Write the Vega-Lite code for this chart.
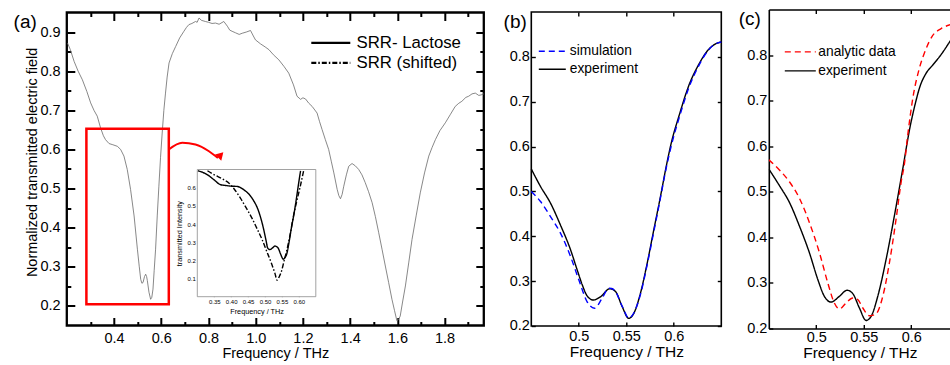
{
  "$schema": "https://vega.github.io/schema/vega-lite/v6.json",
  "padding": {"left": 11.8, "top": 8.5, "right": 0, "bottom": 0},
  "spacing": 47.5,
  "bounds": "flush",
  "center": true,
  "datasets": {
    "a_main": [
      {"f":0.203,"v":0.872},{"f":0.215,"v":0.855},{"f":0.231,"v":0.825},{"f":0.248,"v":0.8},{"f":0.266,"v":0.778},{"f":0.285,"v":0.748},{"f":0.301,"v":0.719},{"f":0.315,"v":0.7},{"f":0.329,"v":0.685},{"f":0.343,"v":0.655},{"f":0.355,"v":0.635},{"f":0.364,"v":0.625},{"f":0.379,"v":0.615},{"f":0.395,"v":0.612},{"f":0.414,"v":0.608},{"f":0.428,"v":0.6},{"f":0.442,"v":0.583},{"f":0.456,"v":0.549},{"f":0.47,"v":0.498},{"f":0.485,"v":0.43},{"f":0.499,"v":0.345},{"f":0.507,"v":0.3},{"f":0.513,"v":0.268},{"f":0.518,"v":0.258},{"f":0.523,"v":0.26},{"f":0.529,"v":0.275},{"f":0.534,"v":0.281},{"f":0.538,"v":0.275},{"f":0.541,"v":0.265},{"f":0.548,"v":0.235},{"f":0.555,"v":0.217},{"f":0.56,"v":0.222},{"f":0.565,"v":0.243},{"f":0.57,"v":0.29},{"f":0.576,"v":0.345},{"f":0.583,"v":0.43},{"f":0.59,"v":0.506},{"f":0.597,"v":0.58},{"f":0.604,"v":0.642},{"f":0.611,"v":0.7},{"f":0.618,"v":0.744},{"f":0.625,"v":0.785},{"f":0.633,"v":0.821},{"f":0.647,"v":0.845},{"f":0.661,"v":0.863},{"f":0.678,"v":0.885},{"f":0.696,"v":0.902},{"f":0.707,"v":0.912},{"f":0.717,"v":0.919},{"f":0.73,"v":0.922},{"f":0.745,"v":0.927},{"f":0.752,"v":0.925},{"f":0.76,"v":0.936},{"f":0.77,"v":0.93},{"f":0.787,"v":0.927},{"f":0.8,"v":0.925},{"f":0.815,"v":0.922},{"f":0.83,"v":0.923},{"f":0.845,"v":0.92},{"f":0.865,"v":0.927},{"f":0.88,"v":0.915},{"f":0.89,"v":0.905},{"f":0.9,"v":0.902},{"f":0.915,"v":0.898},{"f":0.93,"v":0.894},{"f":0.943,"v":0.897},{"f":0.96,"v":0.9},{"f":0.978,"v":0.904},{"f":0.99,"v":0.89},{"f":0.999,"v":0.88},{"f":1.02,"v":0.87},{"f":1.04,"v":0.862},{"f":1.056,"v":0.855},{"f":1.075,"v":0.842},{"f":1.098,"v":0.829},{"f":1.12,"v":0.812},{"f":1.14,"v":0.795},{"f":1.16,"v":0.765},{"f":1.175,"v":0.736},{"f":1.19,"v":0.728},{"f":1.2,"v":0.732},{"f":1.211,"v":0.729},{"f":1.225,"v":0.718},{"f":1.239,"v":0.71},{"f":1.26,"v":0.693},{"f":1.27,"v":0.672},{"f":1.281,"v":0.651},{"f":1.295,"v":0.625},{"f":1.309,"v":0.6},{"f":1.32,"v":0.57},{"f":1.331,"v":0.54},{"f":1.345,"v":0.498},{"f":1.352,"v":0.482},{"f":1.359,"v":0.474},{"f":1.366,"v":0.485},{"f":1.373,"v":0.506},{"f":1.384,"v":0.535},{"f":1.394,"v":0.557},{"f":1.408,"v":0.564},{"f":1.422,"v":0.558},{"f":1.436,"v":0.549},{"f":1.45,"v":0.535},{"f":1.464,"v":0.515},{"f":1.478,"v":0.492},{"f":1.493,"v":0.464},{"f":1.507,"v":0.428},{"f":1.521,"v":0.387},{"f":1.535,"v":0.345},{"f":1.549,"v":0.302},{"f":1.563,"v":0.26},{"f":1.577,"v":0.217},{"f":1.588,"v":0.188},{"f":1.598,"v":0.162},{"f":1.605,"v":0.165},{"f":1.612,"v":0.174},{"f":1.622,"v":0.21},{"f":1.634,"v":0.251},{"f":1.648,"v":0.31},{"f":1.662,"v":0.37},{"f":1.68,"v":0.432},{"f":1.697,"v":0.489},{"f":1.715,"v":0.54},{"f":1.733,"v":0.583},{"f":1.747,"v":0.605},{"f":1.761,"v":0.625},{"f":1.78,"v":0.648},{"f":1.803,"v":0.668},{"f":1.825,"v":0.69},{"f":1.845,"v":0.71},{"f":1.86,"v":0.718},{"f":1.873,"v":0.723},{"f":1.89,"v":0.733},{"f":1.902,"v":0.736},{"f":1.916,"v":0.742},{"f":1.93,"v":0.744},{"f":1.945,"v":0.738},{"f":1.958,"v":0.74},{"f":1.966,"v":0.742}
    ],
    "inset": [
      {"s":"SRR- Lactose","f":0.302,"v":0.693},{"s":"SRR- Lactose","f":0.315,"v":0.685},{"s":"SRR- Lactose","f":0.329,"v":0.672},{"s":"SRR- Lactose","f":0.349,"v":0.644},{"s":"SRR- Lactose","f":0.368,"v":0.617},{"s":"SRR- Lactose","f":0.388,"v":0.611},{"s":"SRR- Lactose","f":0.403,"v":0.608},{"s":"SRR- Lactose","f":0.417,"v":0.607},{"s":"SRR- Lactose","f":0.437,"v":0.589},{"s":"SRR- Lactose","f":0.461,"v":0.544},{"s":"SRR- Lactose","f":0.481,"v":0.471},{"s":"SRR- Lactose","f":0.495,"v":0.379},{"s":"SRR- Lactose","f":0.503,"v":0.31},{"s":"SRR- Lactose","f":0.508,"v":0.267},{"s":"SRR- Lactose","f":0.513,"v":0.26},{"s":"SRR- Lactose","f":0.517,"v":0.261},{"s":"SRR- Lactose","f":0.523,"v":0.27},{"s":"SRR- Lactose","f":0.529,"v":0.279},{"s":"SRR- Lactose","f":0.534,"v":0.276},{"s":"SRR- Lactose","f":0.539,"v":0.267},{"s":"SRR- Lactose","f":0.546,"v":0.235},{"s":"SRR- Lactose","f":0.554,"v":0.206},{"s":"SRR- Lactose","f":0.559,"v":0.215},{"s":"SRR- Lactose","f":0.564,"v":0.234},{"s":"SRR- Lactose","f":0.571,"v":0.3},{"s":"SRR- Lactose","f":0.578,"v":0.379},{"s":"SRR- Lactose","f":0.586,"v":0.46},{"s":"SRR- Lactose","f":0.593,"v":0.544},{"s":"SRR- Lactose","f":0.599,"v":0.62},{"s":"SRR- Lactose","f":0.605,"v":0.693},
      {"s":"SRR (shifted)","f":0.33,"v":0.693},{"s":"SRR (shifted)","f":0.349,"v":0.672},{"s":"SRR (shifted)","f":0.378,"v":0.644},{"s":"SRR (shifted)","f":0.393,"v":0.626},{"s":"SRR (shifted)","f":0.41,"v":0.59},{"s":"SRR (shifted)","f":0.427,"v":0.544},{"s":"SRR (shifted)","f":0.444,"v":0.49},{"s":"SRR (shifted)","f":0.461,"v":0.434},{"s":"SRR (shifted)","f":0.476,"v":0.376},{"s":"SRR (shifted)","f":0.491,"v":0.316},{"s":"SRR (shifted)","f":0.505,"v":0.25},{"s":"SRR (shifted)","f":0.52,"v":0.179},{"s":"SRR (shifted)","f":0.529,"v":0.13},{"s":"SRR (shifted)","f":0.536,"v":0.091},{"s":"SRR (shifted)","f":0.542,"v":0.11},{"s":"SRR (shifted)","f":0.549,"v":0.142},{"s":"SRR (shifted)","f":0.556,"v":0.195},{"s":"SRR (shifted)","f":0.564,"v":0.252},{"s":"SRR (shifted)","f":0.574,"v":0.34},{"s":"SRR (shifted)","f":0.583,"v":0.434},{"s":"SRR (shifted)","f":0.593,"v":0.52},{"s":"SRR (shifted)","f":0.603,"v":0.598},{"s":"SRR (shifted)","f":0.614,"v":0.693}
    ],
    "red_box": [{"x1":0.283,"x2":0.632,"y1":0.204,"y2":0.653}],
    "arrow": [{"f":0.632,"v":0.6},{"f":0.689,"v":0.617},{"f":0.745,"v":0.6125},{"f":0.802,"v":0.5954},{"f":0.84,"v":0.578}],
    "arrow_head": [{"f":0.8497,"v":0.5806}],
    "inset_box": [{"x1":0.3,"x2":0.65,"y1":0,"y2":0.7}],
    "b": [
      {"s":"experiment","f":0.45,"v":0.55},{"s":"experiment","f":0.4597,"v":0.511},{"s":"experiment","f":0.4702,"v":0.474},{"s":"experiment","f":0.4807,"v":0.425},{"s":"experiment","f":0.4913,"v":0.37},{"s":"experiment","f":0.4983,"v":0.325},{"s":"experiment","f":0.5036,"v":0.292},{"s":"experiment","f":0.5088,"v":0.267},{"s":"experiment","f":0.5152,"v":0.258},{"s":"experiment","f":0.5228,"v":0.265},{"s":"experiment","f":0.5326,"v":0.283},{"s":"experiment","f":0.5386,"v":0.277},{"s":"experiment","f":0.5457,"v":0.243},{"s":"experiment","f":0.5526,"v":0.217},{"s":"experiment","f":0.5579,"v":0.228},{"s":"experiment","f":0.5649,"v":0.273},{"s":"experiment","f":0.572,"v":0.34},{"s":"experiment","f":0.5789,"v":0.414},{"s":"experiment","f":0.586,"v":0.489},{"s":"experiment","f":0.5913,"v":0.548},{"s":"experiment","f":0.597,"v":0.605},{"s":"experiment","f":0.606,"v":0.672},{"s":"experiment","f":0.616,"v":0.737},{"s":"experiment","f":0.626,"v":0.782},{"s":"experiment","f":0.636,"v":0.815},{"s":"experiment","f":0.645,"v":0.83},{"s":"experiment","f":0.65,"v":0.833},
      {"s":"simulation","f":0.45,"v":0.5},{"s":"simulation","f":0.4597,"v":0.4775},{"s":"simulation","f":0.4702,"v":0.444},{"s":"simulation","f":0.4807,"v":0.407},{"s":"simulation","f":0.4913,"v":0.355},{"s":"simulation","f":0.5,"v":0.303},{"s":"simulation","f":0.5088,"v":0.254},{"s":"simulation","f":0.5165,"v":0.2395},{"s":"simulation","f":0.5246,"v":0.262},{"s":"simulation","f":0.5316,"v":0.284},{"s":"simulation","f":0.5346,"v":0.2835},{"s":"simulation","f":0.5386,"v":0.277},{"s":"simulation","f":0.5457,"v":0.244},{"s":"simulation","f":0.5526,"v":0.218},{"s":"simulation","f":0.5579,"v":0.229},{"s":"simulation","f":0.565,"v":0.271},{"s":"simulation","f":0.572,"v":0.337},{"s":"simulation","f":0.579,"v":0.411},{"s":"simulation","f":0.586,"v":0.486},{"s":"simulation","f":0.5913,"v":0.545},{"s":"simulation","f":0.5975,"v":0.603},{"s":"simulation","f":0.6065,"v":0.67},{"s":"simulation","f":0.6165,"v":0.735},{"s":"simulation","f":0.6265,"v":0.781},{"s":"simulation","f":0.636,"v":0.814},{"s":"simulation","f":0.645,"v":0.83},{"s":"simulation","f":0.65,"v":0.833}
    ],
    "c": [
      {"s":"experiment","f":0.45,"v":0.55},{"s":"experiment","f":0.4612,"v":0.5135},{"s":"experiment","f":0.4717,"v":0.4768},{"s":"experiment","f":0.4822,"v":0.425},{"s":"experiment","f":0.4927,"v":0.3665},{"s":"experiment","f":0.5016,"v":0.3075},{"s":"experiment","f":0.5085,"v":0.2706},{"s":"experiment","f":0.5156,"v":0.258},{"s":"experiment","f":0.5243,"v":0.2706},{"s":"experiment","f":0.5324,"v":0.2839},{"s":"experiment","f":0.5384,"v":0.2766},{"s":"experiment","f":0.5454,"v":0.245},{"s":"experiment","f":0.5524,"v":0.2177},{"s":"experiment","f":0.5577,"v":0.2265},{"s":"experiment","f":0.5647,"v":0.2706},{"s":"experiment","f":0.5735,"v":0.3517},{"s":"experiment","f":0.5822,"v":0.4472},{"s":"experiment","f":0.591,"v":0.55},{"s":"experiment","f":0.5985,"v":0.64},{"s":"experiment","f":0.605,"v":0.7},{"s":"experiment","f":0.6085,"v":0.727},{"s":"experiment","f":0.6156,"v":0.76},{"s":"experiment","f":0.6226,"v":0.778},{"s":"experiment","f":0.631,"v":0.8},{"s":"experiment","f":0.6416,"v":0.833},
      {"s":"analytic data","f":0.45,"v":0.57},{"s":"analytic data","f":0.4612,"v":0.548},{"s":"analytic data","f":0.4717,"v":0.522},{"s":"analytic data","f":0.4822,"v":0.486},{"s":"analytic data","f":0.4927,"v":0.4327},{"s":"analytic data","f":0.5033,"v":0.3665},{"s":"analytic data","f":0.5121,"v":0.3},{"s":"analytic data","f":0.519,"v":0.256},{"s":"analytic data","f":0.5243,"v":0.2428},{"s":"analytic data","f":0.5314,"v":0.256},{"s":"analytic data","f":0.5384,"v":0.267},{"s":"analytic data","f":0.5437,"v":0.2634},{"s":"analytic data","f":0.549,"v":0.245},{"s":"analytic data","f":0.5559,"v":0.228},{"s":"analytic data","f":0.563,"v":0.2324},{"s":"analytic data","f":0.57,"v":0.2706},{"s":"analytic data","f":0.577,"v":0.3444},{"s":"analytic data","f":0.584,"v":0.44},{"s":"analytic data","f":0.5893,"v":0.521},{"s":"analytic data","f":0.5927,"v":0.56},{"s":"analytic data","f":0.5963,"v":0.625},{"s":"analytic data","f":0.6016,"v":0.705},{"s":"analytic data","f":0.6085,"v":0.771},{"s":"analytic data","f":0.6139,"v":0.805},{"s":"analytic data","f":0.6226,"v":0.843},{"s":"analytic data","f":0.6314,"v":0.858},{"s":"analytic data","f":0.6416,"v":0.867}
    ]
  },
  "hconcat": [
    {
      "width": 417,
      "height": 313,
      "view": {"stroke": "black", "strokeWidth": 2.3},
      "resolve": {"scale": {"x": "independent", "y": "independent"}, "axis": {"x": "independent", "y": "independent"}},
      "layer": [
        {
          "data": {"name": "a_main"},
          "mark": {"type": "line", "color": "#6a6a6a", "strokeWidth": 0.8},
          "encoding": {
            "x": {"field": "f", "type": "quantitative", "scale": {"domain": [0.2, 1.966], "nice": false, "zero": false},
              "axis": {"orient": "bottom", "values": [0.3,0.4,0.5,0.6,0.7,0.8,0.9,1.0,1.1,1.2,1.3,1.4,1.5,1.6,1.7,1.8,1.9], "format": ".1f",
                "labelExpr": "round(datum.value*10)%2==0 ? datum.label : ''",
                "tickSize": {"condition": {"test": "round(datum.value*10)%2==0", "value": -8}, "value": -4},
                "tickWidth": 2, "labelFontSize": 14.5, "labelPadding": 14, "title": "Frequency / THz", "titleFontSize": 14.5, "titlePadding": -2}},
            "y": {"field": "v", "type": "quantitative", "scale": {"domain": [0.15, 0.95], "nice": false, "zero": false},
              "axis": {"orient": "left", "values": [0.2,0.25,0.3,0.35,0.4,0.45,0.5,0.55,0.6,0.65,0.7,0.75,0.8,0.85,0.9], "format": ".1f",
                "labelExpr": "round(datum.value*20)%2==0 ? datum.label : ''",
                "tickSize": {"condition": {"test": "round(datum.value*20)%2==0", "value": -8}, "value": -4},
                "tickWidth": 2, "labelFontSize": 14.5, "labelPadding": 14.7, "title": "Normalized transmitted electric field", "titleFontSize": 14.5, "titlePadding": 0, "titleY": 149.4}}
          }
        },
        {
          "data": {"name": "a_main"},
          "mark": {"type": "line", "opacity": 0},
          "encoding": {
            "x": {"field": "f", "type": "quantitative", "scale": {"domain": [0.2, 1.966], "nice": false, "zero": false},
              "axis": {"orient": "top", "values": [0.3,0.4,0.5,0.6,0.7,0.8,0.9,1.0,1.1,1.2,1.3,1.4,1.5,1.6,1.7,1.8,1.9], "labels": false, "title": null,
                "tickSize": {"condition": {"test": "round(datum.value*10)%2==0", "value": -8}, "value": -4}, "tickWidth": 2}},
            "y": {"field": "v", "type": "quantitative", "scale": {"domain": [0.15, 0.95], "nice": false, "zero": false},
              "axis": {"orient": "right", "values": [0.2,0.25,0.3,0.35,0.4,0.45,0.5,0.55,0.6,0.65,0.7,0.75,0.8,0.85,0.9], "labels": false, "title": null,
                "tickSize": {"condition": {"test": "round(datum.value*20)%2==0", "value": -8}, "value": -4}, "tickWidth": 2}}
          }
        },
        {
          "data": {"name": "red_box"},
          "mark": {"type": "rect", "fillOpacity": 0, "stroke": "#ff0000", "strokeWidth": 2.5},
          "encoding": {
            "x": {"field": "x1", "type": "quantitative", "scale": {"domain": [0.2, 1.966], "nice": false, "zero": false}, "axis": null},
            "x2": {"field": "x2"},
            "y": {"field": "y1", "type": "quantitative", "scale": {"domain": [0.15, 0.95], "nice": false, "zero": false}, "axis": null},
            "y2": {"field": "y2"}
          }
        },
        {
          "data": {"name": "arrow"},
          "mark": {"type": "line", "color": "#ff0000", "strokeWidth": 2, "interpolate": "monotone"},
          "encoding": {
            "x": {"field": "f", "type": "quantitative", "scale": {"domain": [0.2, 1.966], "nice": false, "zero": false}, "axis": null},
            "y": {"field": "v", "type": "quantitative", "scale": {"domain": [0.15, 0.95], "nice": false, "zero": false}, "axis": null}
          }
        },
        {
          "data": {"name": "arrow_head"},
          "mark": {"type": "point", "shape": "triangle-down", "filled": true, "color": "#ff0000", "opacity": 1, "size": 75, "angle": -16},
          "encoding": {
            "x": {"field": "f", "type": "quantitative", "scale": {"domain": [0.2, 1.966], "nice": false, "zero": false}, "axis": null},
            "y": {"field": "v", "type": "quantitative", "scale": {"domain": [0.15, 0.95], "nice": false, "zero": false}, "axis": null}
          }
        },
        {
          "data": {"name": "inset_box"},
          "mark": {"type": "rect", "fill": "white", "stroke": "#8a8a8a", "strokeWidth": 0.8},
          "encoding": {
            "x": {"field": "x1", "type": "quantitative", "scale": {"domain": [0.3, 0.65], "range": [130.5, 249], "nice": false, "zero": false}, "axis": null},
            "x2": {"field": "x2"},
            "y": {"field": "y1", "type": "quantitative", "scale": {"domain": [0, 0.7], "range": [284.2, 157], "nice": false, "zero": false}, "axis": null},
            "y2": {"field": "y2"}
          }
        },
        {
          "data": {"name": "inset"},
          "mark": {"type": "line", "color": "black", "strokeWidth": 1.4, "interpolate": "monotone"},
          "encoding": {
            "x": {"field": "f", "type": "quantitative", "scale": {"domain": [0.3, 0.65], "range": [130.5, 249], "nice": false, "zero": false},
              "axis": {"orient": "bottom", "offset": -28.8, "values": [0.35,0.4,0.45,0.5,0.55,0.6], "format": ".2f", "labelFontSize": 6, "tickSize": -2, "tickWidth": 0.7, "tickColor": "#555", "labelPadding": 4, "title": "Frequency / THz", "titleFontSize": 7.3, "titlePadding": 3}},
            "y": {"field": "v", "type": "quantitative", "scale": {"domain": [0, 0.7], "range": [284.2, 157], "nice": false, "zero": false},
              "axis": {"orient": "left", "offset": -130.5, "values": [0.1,0.2,0.3,0.4,0.5,0.6], "format": ".1f", "labelFontSize": 6, "tickSize": -2, "tickWidth": 0.7, "tickColor": "#555", "labelPadding": 4, "title": "transmitted Intensity", "titleFontSize": 7.3, "titlePadding": 3}},
            "strokeDash": {"field": "s", "type": "nominal",
              "scale": {"domain": ["SRR- Lactose", "SRR (shifted)"], "range": [[1, 0], [5, 2, 1.5, 2]]},
              "legend": {"orient": "none", "legendX": 243, "legendY": 20.6, "title": null, "symbolType": "stroke", "symbolSize": 1521, "symbolStrokeWidth": 2.2, "symbolStrokeColor": "black", "labelFontSize": 16.8, "labelOffset": 4.7, "clipHeight": 19.6, "rowPadding": 0, "padding": 0}}
          }
        },
        {
          "data": {"values": [{"label": "(a)"}]},
          "mark": {"type": "text", "align": "right", "baseline": "top", "dx": -30, "dy": 0, "fontSize": 19, "color": "black"},
          "encoding": {
            "text": {"field": "label"},
            "x": {"datum": 0.2, "type": "quantitative", "scale": {"domain": [0.2, 1.966], "nice": false, "zero": false}, "axis": null},
            "y": {"datum": 0.95, "type": "quantitative", "scale": {"domain": [0.15, 0.95], "nice": false, "zero": false}, "axis": null}
          }
        }
      ]
    },
    {
      "width": 190,
      "height": 314,
      "view": {"stroke": "black", "strokeWidth": 1.6},
      "resolve": {"axis": {"x": "independent", "y": "independent"}},
      "layer": [
        {
          "data": {"name": "b"},
          "mark": {"type": "line", "strokeWidth": 1.4, "interpolate": "monotone"},
          "encoding": {
            "x": {"field": "f", "type": "quantitative", "scale": {"domain": [0.45, 0.65], "nice": false, "zero": false},
              "axis": {"orient": "bottom", "values": [0.5, 0.55, 0.6], "format": "~g", "tickSize": -4, "tickWidth": 1.4, "labelFontSize": 14.5, "labelPadding": 8, "title": "Frequency / THz", "titleFontSize": 15.5, "titlePadding": 1.5}},
            "y": {"field": "v", "type": "quantitative", "scale": {"domain": [0.2, 0.9], "nice": false, "zero": false},
              "axis": {"orient": "left", "values": [0.2,0.3,0.4,0.5,0.6,0.7,0.8], "format": ".1f", "tickSize": -4, "tickWidth": 1.4, "labelFontSize": 14.5, "labelPadding": 6, "title": null}},
            "color": {"field": "s", "type": "nominal", "scale": {"domain": ["simulation", "experiment"], "range": ["#0000ff", "#000000"]},
              "legend": {"orient": "none", "legendX": 6.5, "legendY": 30.2, "title": null, "symbolType": "stroke", "symbolSize": 729, "symbolStrokeWidth": 1.4, "labelFontSize": 13.8, "labelOffset": 3, "clipHeight": 18, "rowPadding": 0, "padding": 0}},
            "strokeDash": {"field": "s", "type": "nominal", "scale": {"domain": ["simulation", "experiment"], "range": [[6, 4], [1, 0]]},
              "legend": {"orient": "none", "legendX": 6.5, "legendY": 30.2, "title": null, "symbolType": "stroke", "symbolSize": 729, "symbolStrokeWidth": 1.4, "labelFontSize": 13.8, "labelOffset": 3, "clipHeight": 18, "rowPadding": 0, "padding": 0}}
          }
        },
        {
          "data": {"name": "b"},
          "mark": {"type": "line", "opacity": 0},
          "encoding": {
            "x": {"field": "f", "type": "quantitative", "axis": {"orient": "top", "values": [0.5, 0.55, 0.6], "labels": false, "title": null, "tickSize": -4, "tickWidth": 1.4}},
            "y": {"field": "v", "type": "quantitative", "axis": {"orient": "right", "values": [0.2,0.3,0.4,0.5,0.6,0.7,0.8], "labels": false, "title": null, "tickSize": -4, "tickWidth": 1.4}},
            "detail": {"field": "s"}
          }
        },
        {
          "data": {"values": [{"label": "(b)"}]},
          "mark": {"type": "text", "align": "right", "baseline": "top", "dx": -4.5, "dy": 0.5, "fontSize": 19, "color": "black"},
          "encoding": {
            "text": {"field": "label"},
            "x": {"datum": 0.45, "type": "quantitative", "axis": null},
            "y": {"datum": 0.9, "type": "quantitative", "axis": null}
          }
        }
      ]
    },
    {
      "width": 182,
      "height": 319,
      "view": {"stroke": null},
      "resolve": {"axis": {"x": "independent", "y": "independent"}},
      "layer": [
        {
          "data": {"name": "c"},
          "mark": {"type": "line", "strokeWidth": 1.4, "interpolate": "monotone", "clip": true},
          "encoding": {
            "x": {"field": "f", "type": "quantitative", "scale": {"domain": [0.45, 0.6416], "nice": false, "zero": false},
              "axis": {"orient": "bottom", "domain": true, "domainColor": "black", "domainWidth": 1.6, "values": [0.5, 0.55, 0.6], "format": "~g", "tickSize": -4, "tickWidth": 1.4, "labelFontSize": 14.5, "labelPadding": 6, "title": "Frequency / THz", "titleFontSize": 15.5, "titlePadding": 1.5}},
            "y": {"field": "v", "type": "quantitative", "scale": {"domain": [0.2, 0.9], "nice": false, "zero": false},
              "axis": {"orient": "left", "domain": true, "domainColor": "black", "domainWidth": 1.6, "values": [0.2,0.3,0.4,0.5,0.6,0.7,0.8], "format": ".1f", "tickSize": -4, "tickWidth": 1.4, "labelFontSize": 14.5, "labelPadding": 6, "title": null}},
            "color": {"field": "s", "type": "nominal", "scale": {"domain": ["analytic data", "experiment"], "range": ["#ff0000", "#000000"]},
              "legend": {"orient": "none", "legendX": 15, "legendY": 33.2, "title": null, "symbolType": "stroke", "symbolSize": 961, "symbolStrokeWidth": 1.4, "labelFontSize": 13.8, "labelOffset": 1.5, "clipHeight": 18.3, "rowPadding": 0, "padding": 0}},
            "strokeDash": {"field": "s", "type": "nominal", "scale": {"domain": ["analytic data", "experiment"], "range": [[6, 4], [1, 0]]},
              "legend": {"orient": "none", "legendX": 15, "legendY": 33.2, "title": null, "symbolType": "stroke", "symbolSize": 961, "symbolStrokeWidth": 1.4, "labelFontSize": 13.8, "labelOffset": 1.5, "clipHeight": 18.3, "rowPadding": 0, "padding": 0}}
          }
        },
        {
          "data": {"name": "c"},
          "mark": {"type": "line", "opacity": 0},
          "encoding": {
            "x": {"field": "f", "type": "quantitative", "axis": {"orient": "top", "domain": true, "domainColor": "black", "domainWidth": 1.6, "values": [0.5, 0.55, 0.6], "labels": false, "title": null, "tickSize": -4, "tickWidth": 1.4}},
            "y": {"field": "v", "type": "quantitative", "axis": null},
            "detail": {"field": "s"}
          }
        },
        {
          "data": {"values": [{"label": "(c)"}]},
          "mark": {"type": "text", "align": "right", "baseline": "top", "dx": -8, "dy": 0.5, "fontSize": 19, "color": "black"},
          "encoding": {
            "text": {"field": "label"},
            "x": {"datum": 0.45, "type": "quantitative", "axis": null},
            "y": {"datum": 0.9, "type": "quantitative", "axis": null}
          }
        }
      ]
    }
  ],
  "resolve": {"scale": {"color": "independent", "strokeDash": "independent"}, "legend": {"color": "independent", "strokeDash": "independent"}},
  "config": {
    "font": "Liberation Sans",
    "view": {"stroke": "black", "strokeWidth": 1.6},
    "axis": {"domain": false, "grid": false, "labelFont": "Liberation Sans", "titleFont": "Liberation Sans", "labelColor": "black", "titleColor": "black", "tickColor": "black", "titleFontWeight": "normal", "labelFlush": false, "labelOverlap": false},
    "legend": {"labelFont": "Liberation Sans", "labelColor": "black", "labelLimit": 0},
    "text": {"font": "Liberation Sans"}
  }
}
